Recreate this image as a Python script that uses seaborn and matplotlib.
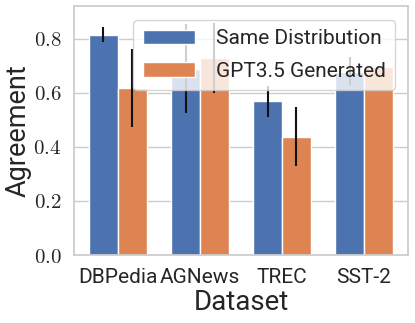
import numpy as np
import pandas as pd
import seaborn as sns
import matplotlib.pyplot as plt
from matplotlib.ticker import FuncFormatter

datasets = ["DBPedia", "AGNews", "TREC", "SST-2"]
same_dist = [0.815, 0.689, 0.568, 0.678]
same_err = [0.028, 0.165, 0.058, 0.053]
gpt_gen = [0.619, 0.729, 0.437, 0.694]
gpt_err = [0.144, 0.13, 0.109, 0.0]
series = ["Same Distribution", "GPT3.5 Generated"]

sns.set_theme(style="whitegrid", palette="deep")
plt.rcParams["font.family"] = ["Roboto", "DejaVu Sans"]
plt.rcParams["mathtext.fontset"] = "cm"

df = pd.DataFrame({
    "Dataset": datasets * 2,
    "Agreement": same_dist + gpt_gen,
    "err": same_err + gpt_err,
    "Method": [series[0]] * 4 + [series[1]] * 4,
})

fig = plt.figure(figsize=(4.15, 3.23), dpi=100)
ax = fig.add_axes([0.178, 0.2105, 0.805, 0.7705])

sns.barplot(data=df, x="Dataset", y="Agreement", hue="Method", width=0.7,
            errorbar=None, saturation=1, edgecolor="white", linewidth=1, ax=ax)

# error bars at bar centres
bars = [p for p in ax.patches if p.get_height() > 0]
bars = sorted(bars, key=lambda p: p.get_x())
order = []
for i in range(4):
    order += [(same_dist[i], same_err[i]), (gpt_gen[i], gpt_err[i])]
for p, (v, e) in zip(bars, order):
    if e > 0:
        ax.errorbar(p.get_x() + p.get_width() / 2, v, yerr=e, color="#111111",
                    linewidth=1.5, capsize=0, zorder=3)

ax.set_ylim(0, 0.92)
ax.set_yticks([0.0, 0.2, 0.4, 0.6, 0.8])
ax.yaxis.set_major_formatter(FuncFormatter(lambda v, pos: r"$%.1f$" % v))
ax.tick_params(axis="both", labelsize=15, pad=3)
ax.set_xlabel("Dataset", fontsize=20, labelpad=2)
ax.set_ylabel("Agreement", fontsize=19.5, labelpad=1)

leg = ax.legend(loc="upper right", bbox_to_anchor=(0.961, 0.944), borderaxespad=0,
                fontsize=15, handlelength=2.5, handletextpad=1.0, labelspacing=0.65,
                borderpad=0.45, title=None)
leg.set_zorder(5)

fig.savefig("out.png", dpi=100)
